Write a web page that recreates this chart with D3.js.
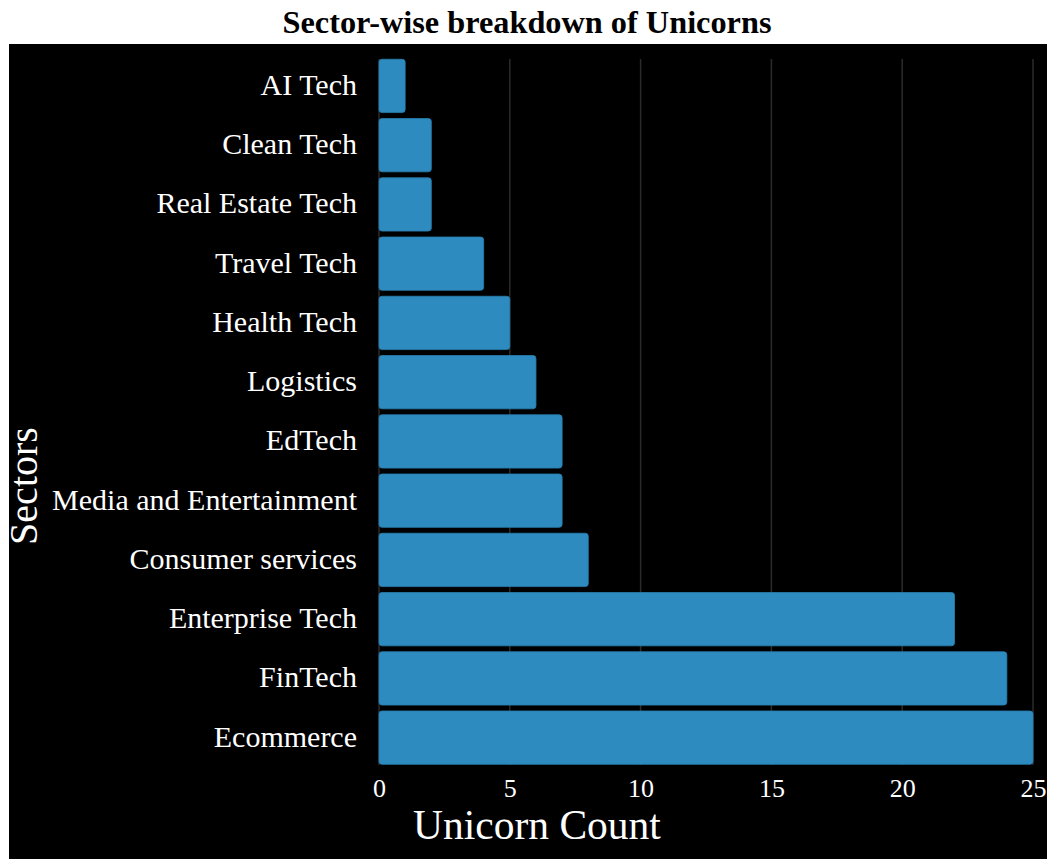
<!DOCTYPE html>
<html><head><meta charset="utf-8">
<script src="https://cdn.jsdelivr.net/npm/d3@7"></script>
<style>
html,body{margin:0;padding:0;background:#fff;}
svg{display:block;}
text{font-family:"Liberation Serif","Times New Roman",serif;}
</style></head>
<body><svg id="chart" width="1047" height="859"></svg>
<script>
const categories = ["AI Tech","Clean Tech","Real Estate Tech","Travel Tech","Health Tech","Logistics","EdTech","Media and Entertainment","Consumer services","Enterprise Tech","FinTech","Ecommerce"];
const unicornCounts = [1,2,2,4,5,6,7,7,8,22,24,25];
const xTicks = [0,5,10,15,20,25];
const titleText = "Sector-wise breakdown of Unicorns";
const xLabel = "Unicorn Count";
const yLabel = "Sectors";

const svg = d3.select("#chart");
svg.append("rect").attr("x",9).attr("y",44).attr("width",1038).attr("height",815).attr("fill","#000");

const x = d3.scaleLinear().domain([0,25]).range([379,1033]);
const y = d3.scaleBand().domain(categories).range([56.3,767.3]).paddingInner(0.1).paddingOuter(0.05);

// grid
svg.append("g").selectAll("line").data(xTicks).join("line")
  .attr("x1",d=>x(d)).attr("x2",d=>x(d)).attr("y1",59).attr("y2",765)
  .attr("stroke","#2b2b2b").attr("stroke-width",1.5);

// bars
svg.append("g").selectAll("rect").data(categories).join("rect")
  .attr("x",x(0)).attr("y",d=>y(d))
  .attr("width",(d,i)=>x(unicornCounts[i])-x(0))
  .attr("height",y.bandwidth())
  .attr("rx",3).attr("ry",3)
  .attr("fill","#2e8bc0").attr("stroke","#2a7fb0").attr("stroke-width",0.8);

// x axis
const xAxis = d3.axisBottom(x).tickValues(xTicks).tickSize(0).tickPadding(10);
const gx = svg.append("g").attr("transform","translate(0,770)").call(xAxis);
gx.select(".domain").remove();
gx.selectAll("text").attr("fill","#fff").style("font-size","26px").style("font-family","'Liberation Serif',serif").attr("dy","0.66em");

// y axis
const yAxis = d3.axisLeft(y).tickSize(0).tickPadding(22);
const gy = svg.append("g").attr("transform",`translate(${x(0)},0)`).call(yAxis);
gy.select(".domain").remove();
gy.selectAll("text").attr("fill","#fff").style("font-size","30px").style("font-family","'Liberation Serif',serif").attr("dy","0.3em");

// labels
svg.append("text").attr("x",527).attr("y",33).attr("text-anchor","middle")
  .style("font-size","32.3px").style("font-weight","bold").attr("fill","#000").text(titleText);
svg.append("text").attr("x",537).attr("y",839).attr("text-anchor","middle")
  .style("font-size","41.5px").attr("fill","#fff").text(xLabel);
svg.append("text").attr("transform","translate(37,486) rotate(-90)").attr("text-anchor","middle")
  .style("font-size","40px").attr("fill","#fff").text(yLabel);
</script></body></html>
